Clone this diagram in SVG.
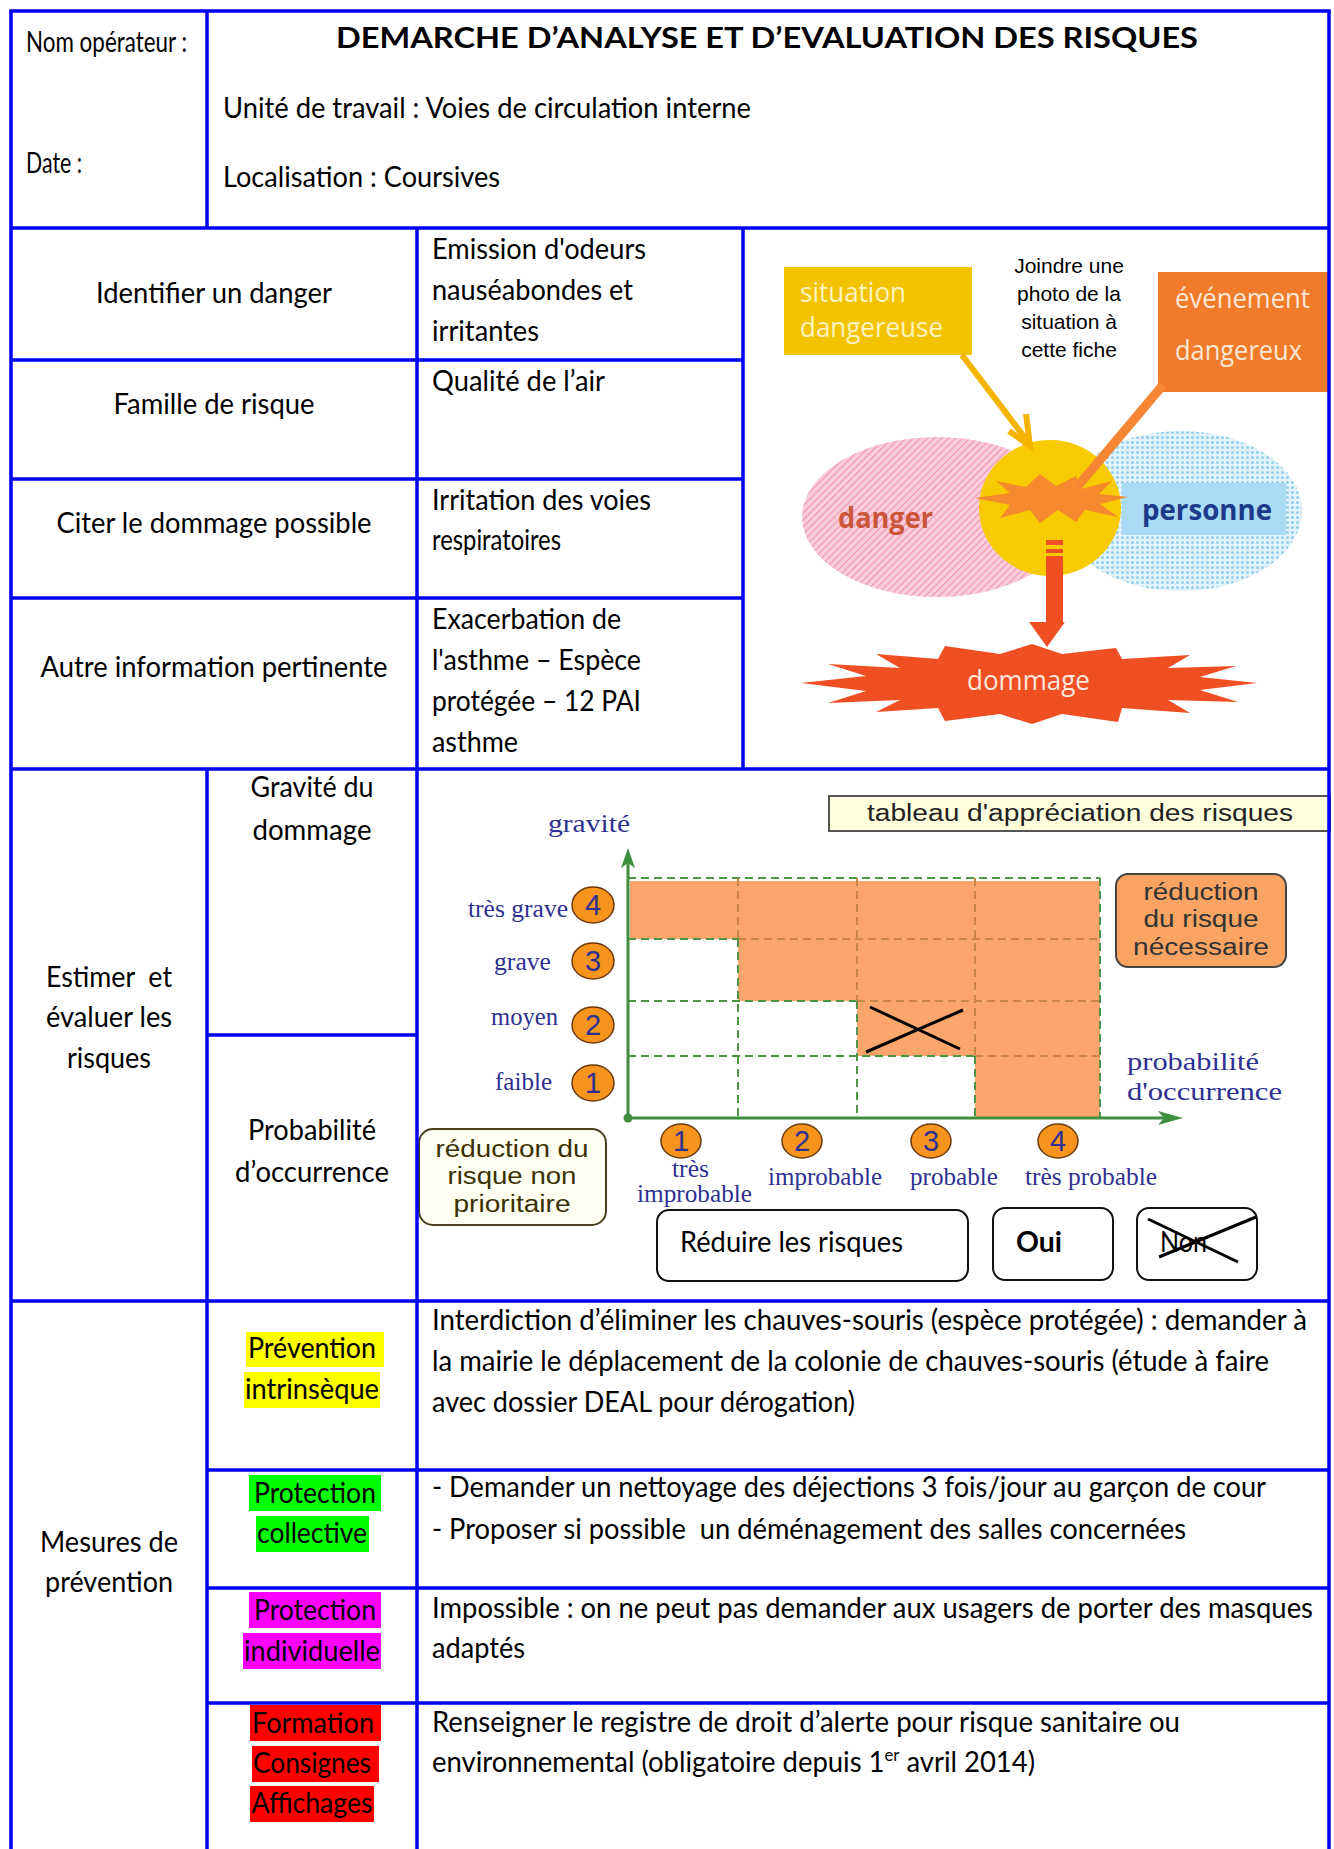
<svg xmlns="http://www.w3.org/2000/svg" width="1334" height="1849" viewBox="0 0 1334 1849">
<style>
.grid{stroke:#0000FF;stroke-width:3.5;fill:none}
.t{font-family:Lato,"Liberation Sans",sans-serif;font-size:28px;fill:#000}
.c{text-anchor:middle}
.bold{font-weight:700}
.ser{font-family:"Liberation Serif","Times New Roman",serif;font-size:25px;fill:#2E3192}
.ar{font-family:"Liberation Sans",Arial,sans-serif}
.os{font-family:"Open Sans","Noto Sans",sans-serif}
.dg{stroke:#4F9445;stroke-width:2;stroke-dasharray:8 5;fill:none}
.do{stroke:#C98645;stroke-width:2;stroke-dasharray:8 5;fill:none}
.num{font-family:"Liberation Sans",Arial,sans-serif;font-size:29px;fill:#2E3192;text-anchor:middle}
.circ{fill:#F7941D;stroke:#6B3A10;stroke-width:1.5}
.box{fill:#FFFFFF;stroke:#111;stroke-width:2}
</style>
<defs>
<pattern id="pinkHatch" patternUnits="userSpaceOnUse" width="5" height="5" patternTransform="rotate(45)">
<rect width="5" height="5" fill="#F9CCDA"/>
<line x1="0" y1="0" x2="0" y2="5" stroke="#EE93B3" stroke-width="2.2"/>
</pattern>
<pattern id="blueDots" patternUnits="userSpaceOnUse" width="5" height="5">
<rect width="5" height="5" fill="#E3F3FB"/>
<circle cx="2.5" cy="2.5" r="1.5" fill="#93CFEC"/>
</pattern>
</defs>
<rect width="1334" height="1849" fill="#FFFFFF"/>

<!-- Header -->
<g id="header">
<text class="t" x="26" y="52" font-size="22" textLength="161" lengthAdjust="spacingAndGlyphs">Nom opérateur :</text>
<text class="t" x="26" y="173" font-size="22" textLength="56" lengthAdjust="spacingAndGlyphs">Date :</text>
<text class="t bold" x="336" y="48" font-size="34" textLength="862" lengthAdjust="spacingAndGlyphs">DEMARCHE D’ANALYSE ET D’EVALUATION DES RISQUES</text>
<text class="t" x="223" y="118" textLength="528" lengthAdjust="spacingAndGlyphs">Unité de travail : Voies de circulation interne</text>
<text class="t" x="223" y="187" textLength="277" lengthAdjust="spacingAndGlyphs">Localisation : Coursives</text>
</g>

<!-- Section 2 -->
<g id="identifier-danger">
<text class="t c" x="214" y="303" textLength="236" lengthAdjust="spacingAndGlyphs">Identifier un danger</text>
<text class="t" x="432" y="259" textLength="214" lengthAdjust="spacingAndGlyphs">Emission d'odeurs</text>
<text class="t" x="432" y="300" textLength="201" lengthAdjust="spacingAndGlyphs">nauséabondes et</text>
<text class="t" x="432" y="341" textLength="107" lengthAdjust="spacingAndGlyphs">irritantes</text>
</g>
<g id="famille-risque">
<text class="t c" x="214" y="414" textLength="201" lengthAdjust="spacingAndGlyphs">Famille de risque</text>
<text class="t" x="432" y="391" textLength="173" lengthAdjust="spacingAndGlyphs">Qualité de l’air</text>
</g>
<g id="dommage-possible">
<text class="t c" x="214" y="533" textLength="315" lengthAdjust="spacingAndGlyphs">Citer le dommage possible</text>
<text class="t" x="432" y="510" textLength="219" lengthAdjust="spacingAndGlyphs">Irritation des voies</text>
<text class="t" x="432" y="550" textLength="129" lengthAdjust="spacingAndGlyphs">respiratoires</text>
</g>
<g id="autre-information">
<text class="t c" x="214" y="677" textLength="347" lengthAdjust="spacingAndGlyphs">Autre information pertinente</text>
<text class="t" x="432" y="629" textLength="189" lengthAdjust="spacingAndGlyphs">Exacerbation de</text>
<text class="t" x="432" y="670" textLength="209" lengthAdjust="spacingAndGlyphs">l'asthme – Espèce</text>
<text class="t" x="432" y="711" textLength="209" lengthAdjust="spacingAndGlyphs">protégée – 12 PAI</text>
<text class="t" x="432" y="752" textLength="86" lengthAdjust="spacingAndGlyphs">asthme</text>
</g>

<!-- Picture -->
<g id="picture">
<ellipse cx="937" cy="517" rx="135" ry="80" fill="url(#pinkHatch)"/>
<ellipse cx="1181" cy="511" rx="121" ry="80" fill="url(#blueDots)"/>
<rect x="1122" y="483" width="164" height="52" fill="#A9DCF4"/>
<text class="os bold" x="838" y="528" font-size="29" fill="#C9563A" textLength="95" lengthAdjust="spacingAndGlyphs">danger</text>
<text class="os bold" x="1142" y="520" font-size="29" fill="#1B3A8A" textLength="130" lengthAdjust="spacingAndGlyphs">personne</text>
<ellipse cx="1050" cy="508" rx="71" ry="68" fill="#F8CA00"/>
<polygon fill="#F58A2E" points="975,498 1010,493 996,481 1026,487 1040,474 1056,486 1076,476 1081,489 1112,481 1099,494 1128,497 1100,504 1118,517 1085,510 1076,522 1058,510 1040,523 1030,510 1000,518 1010,505"/>
<rect x="784" y="267" width="188" height="88" fill="#F4C300"/>
<text class="os" x="800" y="302" font-size="27" fill="#FFF3C2" textLength="106" lengthAdjust="spacingAndGlyphs">situation</text>
<text class="os" x="800" y="337" font-size="27" fill="#FFF3C2" textLength="143" lengthAdjust="spacingAndGlyphs">dangereuse</text>
<rect x="1158" y="272" width="171" height="120" fill="#F07B2A"/>
<text class="os" x="1175" y="308" font-size="27" fill="#FFE6D4" textLength="135" lengthAdjust="spacingAndGlyphs">événement</text>
<text class="os" x="1175" y="360" font-size="27" fill="#FFE6D4" textLength="127" lengthAdjust="spacingAndGlyphs">dangereux</text>
<text class="ar c" x="1069" y="273" font-size="21" fill="#000">Joindre une</text>
<text class="ar c" x="1069" y="301" font-size="21" fill="#000">photo de la</text>
<text class="ar c" x="1069" y="329" font-size="21" fill="#000">situation à</text>
<text class="ar c" x="1069" y="357" font-size="21" fill="#000">cette fiche</text>
<polygon fill="#F04E23" points="801,683 866,676 828,664 900,668 876,654 938,659 945,646 1000,654 1032,644 1062,654 1116,648 1122,659 1190,655 1168,668 1236,666 1200,677 1257,683 1200,690 1238,702 1168,700 1190,713 1122,708 1118,722 1062,714 1032,724 1000,714 945,721 938,708 876,712 900,700 828,703 866,691"/>
<text class="os" x="967" y="690" font-size="28" fill="#FFE6DA" textLength="123" lengthAdjust="spacingAndGlyphs">dommage</text>
</g>

<g id="connectors">
<line x1="962" y1="355" x2="1028" y2="442" stroke="#F5B400" stroke-width="6"/>
<polyline points="1009,431 1030,446 1026,414" fill="none" stroke="#F5B400" stroke-width="6" stroke-linejoin="miter"/>
<line x1="1163" y1="385" x2="1078" y2="486" stroke="#F58634" stroke-width="9"/>
<rect x="1046" y="540" width="17" height="84" fill="#F04E23"/>
<rect x="1046" y="545" width="17" height="4" fill="#F8CA00"/>
<rect x="1046" y="553" width="17" height="3" fill="#F8CA00"/>
<polygon points="1029,622 1065,622 1047,647" fill="#F04E23"/>
</g>

<!-- Section 3 -->
<g id="estimer">
<text class="t c" x="109" y="987" textLength="126" lengthAdjust="spacingAndGlyphs">Estimer&#160; et</text>
<text class="t c" x="109" y="1027" textLength="126" lengthAdjust="spacingAndGlyphs">évaluer les</text>
<text class="t c" x="109" y="1068" textLength="84" lengthAdjust="spacingAndGlyphs">risques</text>
</g>
<g id="gravite">
<text class="t c" x="312" y="797" textLength="123" lengthAdjust="spacingAndGlyphs">Gravité du</text>
<text class="t c" x="312" y="840" textLength="119" lengthAdjust="spacingAndGlyphs">dommage</text>
</g>
<g id="probabilite">
<text class="t c" x="312" y="1140" textLength="128" lengthAdjust="spacingAndGlyphs">Probabilité</text>
<text class="t c" x="312" y="1182" textLength="154" lengthAdjust="spacingAndGlyphs">d’occurrence</text>
</g>

<g id="chart">
<path d="M630,881 H1100 V1118 H975 V1056 H857 V1001 H738 V939 H630 Z" fill="#FAA56B"/>
<line class="dg" x1="628" y1="878" x2="1100" y2="878"/>
<line class="dg" x1="628" y1="939" x2="738" y2="939"/>
<line class="do" x1="738" y1="939" x2="1100" y2="939"/>
<line class="dg" x1="628" y1="1001" x2="857" y2="1001"/>
<line class="do" x1="857" y1="1001" x2="1100" y2="1001"/>
<line class="dg" x1="628" y1="1056" x2="975" y2="1056"/>
<line class="do" x1="975" y1="1056" x2="1100" y2="1056"/>
<line class="do" x1="738" y1="878" x2="738" y2="939"/>
<line class="dg" x1="738" y1="939" x2="738" y2="1118"/>
<line class="do" x1="857" y1="878" x2="857" y2="1001"/>
<line class="dg" x1="857" y1="1001" x2="857" y2="1118"/>
<line class="do" x1="975" y1="878" x2="975" y2="1056"/>
<line class="dg" x1="975" y1="1056" x2="975" y2="1118"/>
<line class="dg" x1="1100" y1="878" x2="1100" y2="1118"/>
<line x1="628" y1="1118" x2="628" y2="862" stroke="#3E8E3E" stroke-width="3"/>
<polygon points="628,848 621,868 628,863 635,868" fill="#3E8E3E"/>
<line x1="628" y1="1118" x2="1170" y2="1118" stroke="#3E8E3E" stroke-width="3"/>
<polygon points="1183,1118 1158,1111 1164,1118 1158,1125" fill="#3E8E3E"/>
<circle cx="628" cy="1118" r="4.5" fill="#3E8E3E"/>
<line x1="870" y1="1007" x2="960" y2="1049" stroke="#000" stroke-width="3"/>
<line x1="866" y1="1052" x2="963" y2="1010" stroke="#000" stroke-width="3"/>

<text class="ser" x="548" y="832" font-size="26" textLength="82" lengthAdjust="spacingAndGlyphs">gravité</text>
<text class="ser" x="468" y="917" textLength="100" lengthAdjust="spacingAndGlyphs">très grave</text>
<text class="ser" x="494" y="970" textLength="57" lengthAdjust="spacingAndGlyphs">grave</text>
<text class="ser" x="491" y="1025" textLength="67" lengthAdjust="spacingAndGlyphs">moyen</text>
<text class="ser" x="495" y="1090" textLength="57" lengthAdjust="spacingAndGlyphs">faible</text>
<ellipse class="circ" cx="593" cy="905" rx="21" ry="18"/>
<ellipse class="circ" cx="593" cy="961" rx="21" ry="18"/>
<ellipse class="circ" cx="593" cy="1025" rx="21" ry="18"/>
<ellipse class="circ" cx="593" cy="1083" rx="21" ry="18"/>
<text class="num" x="593" y="915">4</text>
<text class="num" x="593" y="971">3</text>
<text class="num" x="593" y="1035">2</text>
<text class="num" x="593" y="1093">1</text>
<ellipse class="circ" cx="681" cy="1141" rx="20" ry="17"/>
<ellipse class="circ" cx="802" cy="1141" rx="20" ry="17"/>
<ellipse class="circ" cx="931" cy="1141" rx="20" ry="17"/>
<ellipse class="circ" cx="1058" cy="1141" rx="20" ry="17"/>
<text class="num" x="681" y="1151">1</text>
<text class="num" x="802" y="1151">2</text>
<text class="num" x="931" y="1151">3</text>
<text class="num" x="1058" y="1151">4</text>
<text class="ser" x="672" y="1177" textLength="37" lengthAdjust="spacingAndGlyphs">très</text>
<text class="ser" x="637" y="1202" textLength="115" lengthAdjust="spacingAndGlyphs">improbable</text>
<text class="ser" x="768" y="1185" textLength="114" lengthAdjust="spacingAndGlyphs">improbable</text>
<text class="ser" x="910" y="1185" textLength="88" lengthAdjust="spacingAndGlyphs">probable</text>
<text class="ser" x="1025" y="1185" textLength="132" lengthAdjust="spacingAndGlyphs">très probable</text>
<text class="ser" x="1127" y="1070" font-size="28" textLength="132" lengthAdjust="spacingAndGlyphs">probabilité</text>
<text class="ser" x="1127" y="1100" font-size="28" textLength="155" lengthAdjust="spacingAndGlyphs">d'occurrence</text>

<rect x="829" y="796" width="501" height="35" fill="#FFFFDD" stroke="#555" stroke-width="2"/>
<text class="ar" x="867" y="821" font-size="23" fill="#222" textLength="426" lengthAdjust="spacingAndGlyphs">tableau d'appréciation des risques</text>

<rect x="1116" y="874" width="170" height="93" rx="12" fill="#F9A463" stroke="#444" stroke-width="2"/>
<text class="ar c" x="1201" y="900" font-size="23" fill="#333" textLength="115" lengthAdjust="spacingAndGlyphs">réduction</text>
<text class="ar c" x="1201" y="927" font-size="23" fill="#333" textLength="115" lengthAdjust="spacingAndGlyphs">du risque</text>
<text class="ar c" x="1201" y="955" font-size="23" fill="#333" textLength="136" lengthAdjust="spacingAndGlyphs">nécessaire</text>

<rect x="419" y="1129" width="187" height="96" rx="14" fill="#FFFFF2" stroke="#4A4020" stroke-width="2"/>
<text class="ar c" x="512" y="1157" font-size="23" fill="#3A3000" textLength="153" lengthAdjust="spacingAndGlyphs">réduction du</text>
<text class="ar c" x="512" y="1184" font-size="23" fill="#3A3000" textLength="129" lengthAdjust="spacingAndGlyphs">risque non</text>
<text class="ar c" x="512" y="1212" font-size="23" fill="#3A3000" textLength="117" lengthAdjust="spacingAndGlyphs">prioritaire</text>
</g>

<g id="reduire-risques">
<rect class="box" x="657" y="1210" width="311" height="71" rx="12"/>
<text class="t" x="680" y="1252" textLength="223" lengthAdjust="spacingAndGlyphs">Réduire les risques</text>
</g>
<g id="oui">
<rect class="box" x="993" y="1208" width="120" height="72" rx="12"/>
<text class="t bold" x="1016" y="1252" textLength="46" lengthAdjust="spacingAndGlyphs">Oui</text>
</g>
<g id="non">
<rect class="box" x="1137" y="1208" width="120" height="72" rx="12"/>
<text class="t" x="1160" y="1252" textLength="47" lengthAdjust="spacingAndGlyphs">Non</text>
<line x1="1148" y1="1219" x2="1238" y2="1262" stroke="#000" stroke-width="3"/>
<line x1="1159" y1="1257" x2="1256" y2="1217" stroke="#000" stroke-width="3"/>
</g>

<!-- Section 4 -->
<g id="mesures">
<text class="t c" x="109" y="1552" textLength="138" lengthAdjust="spacingAndGlyphs">Mesures de</text>
<text class="t c" x="109" y="1592" textLength="128" lengthAdjust="spacingAndGlyphs">prévention</text>
</g>
<g id="prevention-intrinseque">
<rect x="246" y="1332" width="138" height="35" fill="#FFFF00"/>
<rect x="244" y="1372" width="136" height="36" fill="#FFFF00"/>
<text class="t c" x="312" y="1358" textLength="128" lengthAdjust="spacingAndGlyphs">Prévention</text>
<text class="t c" x="312" y="1399" textLength="134" lengthAdjust="spacingAndGlyphs">intrinsèque</text>
<text class="t" x="432" y="1330" textLength="875" lengthAdjust="spacingAndGlyphs">Interdiction d’éliminer les chauves-souris (espèce protégée) : demander à</text>
<text class="t" x="432" y="1371" textLength="837" lengthAdjust="spacingAndGlyphs">la mairie le déplacement de la colonie de chauves-souris (étude à faire</text>
<text class="t" x="432" y="1412" textLength="423" lengthAdjust="spacingAndGlyphs">avec dossier DEAL pour dérogation)</text>
</g>
<g id="protection-collective">
<rect x="249" y="1475" width="132" height="36" fill="#00FF00"/>
<rect x="256" y="1516" width="113" height="36" fill="#00FF00"/>
<text class="t c" x="315" y="1503" textLength="122" lengthAdjust="spacingAndGlyphs">Protection</text>
<text class="t c" x="312" y="1543" textLength="110" lengthAdjust="spacingAndGlyphs">collective</text>
<text class="t" x="432" y="1497" font-size="27" textLength="834" lengthAdjust="spacingAndGlyphs">- Demander un nettoyage des déjections 3 fois/jour au garçon de cour</text>
<text class="t" x="432" y="1539" font-size="27" textLength="754" lengthAdjust="spacingAndGlyphs">- Proposer si possible&#160; un déménagement des salles concernées</text>
</g>
<g id="protection-individuelle">
<rect x="249" y="1592" width="132" height="36" fill="#FF00FF"/>
<rect x="243" y="1633" width="138" height="36" fill="#FF00FF"/>
<text class="t c" x="315" y="1620" textLength="122" lengthAdjust="spacingAndGlyphs">Protection</text>
<text class="t c" x="312" y="1661" textLength="136" lengthAdjust="spacingAndGlyphs">individuelle</text>
<text class="t" x="432" y="1618" textLength="881" lengthAdjust="spacingAndGlyphs">Impossible : on ne peut pas demander aux usagers de porter des masques</text>
<text class="t" x="432" y="1658" textLength="93" lengthAdjust="spacingAndGlyphs">adaptés</text>
</g>
<g id="formation-consignes">
<rect x="250" y="1705" width="131" height="36" fill="#FF0000"/>
<rect x="252" y="1746" width="127" height="36" fill="#FF0000"/>
<rect x="250" y="1786" width="124" height="36" fill="#FF0000"/>
<text class="t c" x="313" y="1733" textLength="122" lengthAdjust="spacingAndGlyphs">Formation</text>
<text class="t c" x="312" y="1773" textLength="118" lengthAdjust="spacingAndGlyphs">Consignes</text>
<text class="t c" x="312" y="1813" textLength="121" lengthAdjust="spacingAndGlyphs">Affichages</text>
<text class="t" x="432" y="1732" textLength="748" lengthAdjust="spacingAndGlyphs">Renseigner le registre de droit d’alerte pour risque sanitaire ou</text>
<text class="t" x="432" y="1772" textLength="603" lengthAdjust="spacingAndGlyphs">environnemental (obligatoire depuis 1<tspan baseline-shift="11" font-size="17">er</tspan> avril 2014)</text>
</g>

<!-- Table grid -->
<g id="table-grid">
<line class="grid" x1="9.25" y1="11" x2="1330.75" y2="11"/>
<line class="grid" x1="11" y1="11" x2="11" y2="1849"/>
<line class="grid" x1="1329" y1="11" x2="1329" y2="1849"/>
<line class="grid" x1="207" y1="11" x2="207" y2="228"/>
<line class="grid" x1="11" y1="228" x2="1329" y2="228"/>
<line class="grid" x1="417" y1="228" x2="417" y2="769"/>
<line class="grid" x1="743" y1="228" x2="743" y2="769"/>
<line class="grid" x1="11" y1="360" x2="743" y2="360"/>
<line class="grid" x1="11" y1="479" x2="743" y2="479"/>
<line class="grid" x1="11" y1="598" x2="743" y2="598"/>
<line class="grid" x1="11" y1="769" x2="1329" y2="769"/>
<line class="grid" x1="207" y1="769" x2="207" y2="1849"/>
<line class="grid" x1="417" y1="769" x2="417" y2="1849"/>
<line class="grid" x1="207" y1="1035" x2="417" y2="1035"/>
<line class="grid" x1="11" y1="1301" x2="1329" y2="1301"/>
<line class="grid" x1="207" y1="1470" x2="1329" y2="1470"/>
<line class="grid" x1="207" y1="1588" x2="1329" y2="1588"/>
<line class="grid" x1="207" y1="1703" x2="1329" y2="1703"/>
</g>
</svg>
